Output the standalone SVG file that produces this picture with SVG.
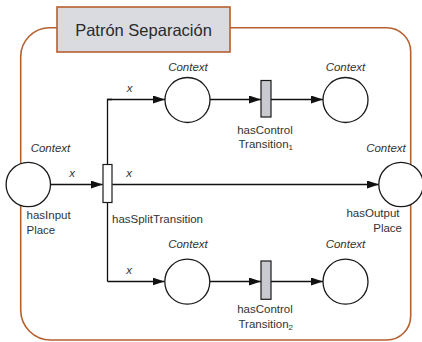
<svg xmlns="http://www.w3.org/2000/svg" width="422" height="342" viewBox="0 0 422 342">
<defs>
<marker id="ah" markerUnits="userSpaceOnUse" markerWidth="13" markerHeight="9" refX="12" refY="4" orient="auto">
<path d="M0,0 L12,4 L0,8 Z" fill="#111"/>
</marker>
<style>
.frame{fill:none;stroke:#b5602f;stroke-width:1.6}
.title{fill:#d9dbe0;stroke:#b5602f;stroke-width:1.6}
.tt{font-family:"Liberation Sans",Arial,sans-serif;font-size:16.5px;fill:#2a2a2a;text-anchor:middle}
.place{fill:#fff;stroke:#1a1a1a;stroke-width:1.3}
.split{fill:#fff;stroke:#1a1a1a;stroke-width:1.2}
.ctrl{fill:#c9cacf;stroke:#1a1a1a;stroke-width:1.2}
.arc{fill:none;stroke:#111;stroke-width:1.3}
.arr{fill:none;stroke:#111;stroke-width:1.3;marker-end:url(#ah)}
.lbl{font-family:"Liberation Sans",Arial,sans-serif;font-size:11.5px;fill:#333}
.ctx{font-family:"Liberation Sans",Arial,sans-serif;font-size:11.5px;font-style:italic;fill:#333;text-anchor:middle}
.x{font-family:"Liberation Sans",Arial,sans-serif;font-size:11.5px;font-style:italic;fill:#333;text-anchor:middle}
.c{text-anchor:middle}
.e{text-anchor:end}
</style>
</defs>
<g id="frame">
<path class="frame" d="M57,27.7 L49.7,27.7 A29,29 0 0 0 20.7,56.7 L20.7,310 A30,30 0 0 0 50.7,340 L386.7,340 A24,24 0 0 0 410.7,316 L410.7,51.7 A24,24 0 0 0 386.7,27.7 L230,27.7"/>
</g>
<g id="title">
<rect class="title" x="57" y="7" width="173" height="45"/>
<text class="tt" x="143.5" y="35.5">Patrón Separación</text>
</g>
<g id="connectors">
<line class="arr" x1="50.5" y1="184.5" x2="102.7" y2="184.5"/>
<polyline class="arc" points="107.5,164.5 107.5,99.5 112,99.5"/>
<line class="arr" x1="107.5" y1="99.5" x2="165" y2="99.5"/>
<polyline class="arc" points="107.5,202.5 107.5,281.5"/>
<line class="arr" x1="107.5" y1="281.5" x2="164.5" y2="281.5"/>
<line class="arr" x1="112.3" y1="184.5" x2="379" y2="184.5"/>
<line class="arr" x1="210" y1="99.5" x2="261" y2="99.5"/>
<line class="arr" x1="271" y1="99.5" x2="323" y2="99.5"/>
<line class="arr" x1="210" y1="281.5" x2="261" y2="281.5"/>
<line class="arr" x1="271" y1="281.5" x2="323" y2="281.5"/>
<text class="x" x="72" y="177">x</text>
<text class="x" x="129" y="177">x</text>
<text class="x" x="129.5" y="92">x</text>
<text class="x" x="129" y="274">x</text>
</g>
<g id="inputPlace">
<circle class="place" cx="28.3" cy="184.5" r="22.2"/>
<text class="ctx" x="50.5" y="152">Context</text>
<text class="lbl" x="26.5" y="219">hasInput</text>
<text class="lbl" x="26.5" y="234">Place</text>
</g>
<g id="splitTransition">
<rect class="split" x="103" y="164.5" width="9" height="38"/>
<text class="lbl" x="112" y="223">hasSplitTransition</text>
</g>
<g id="placeTop">
<circle class="place" cx="187.5" cy="100" r="22.5"/>
<text class="ctx" x="188" y="71">Context</text>
</g>
<g id="controlTransition1">
<rect class="ctrl" x="261" y="80.5" width="10" height="36.5"/>
<text class="lbl c" x="265" y="134">hasControl</text>
<text class="lbl" x="238.5" y="148">Transition<tspan font-size="8" dy="2">1</tspan></text>
</g>
<g id="placeTopRight">
<circle class="place" cx="345.5" cy="100" r="22.5"/>
<text class="ctx" x="345.5" y="71">Context</text>
</g>
<g id="outputPlace">
<circle class="place" cx="401" cy="184.5" r="22.2"/>
<text class="ctx" x="386" y="152">Context</text>
<text class="lbl e" x="399.5" y="217">hasOutput</text>
<text class="lbl e" x="402" y="232">Place</text>
</g>
<g id="placeBottom">
<circle class="place" cx="187.3" cy="281.7" r="22.5"/>
<text class="ctx" x="188" y="248">Context</text>
</g>
<g id="controlTransition2">
<rect class="ctrl" x="261" y="261" width="10" height="38.3"/>
<text class="lbl c" x="265" y="313">hasControl</text>
<text class="lbl" x="238.5" y="328">Transition<tspan font-size="8" dy="2">2</tspan></text>
</g>
<g id="placeBottomRight">
<circle class="place" cx="345.5" cy="281.7" r="22.5"/>
<text class="ctx" x="345.5" y="248">Context</text>
</g>
</svg>
